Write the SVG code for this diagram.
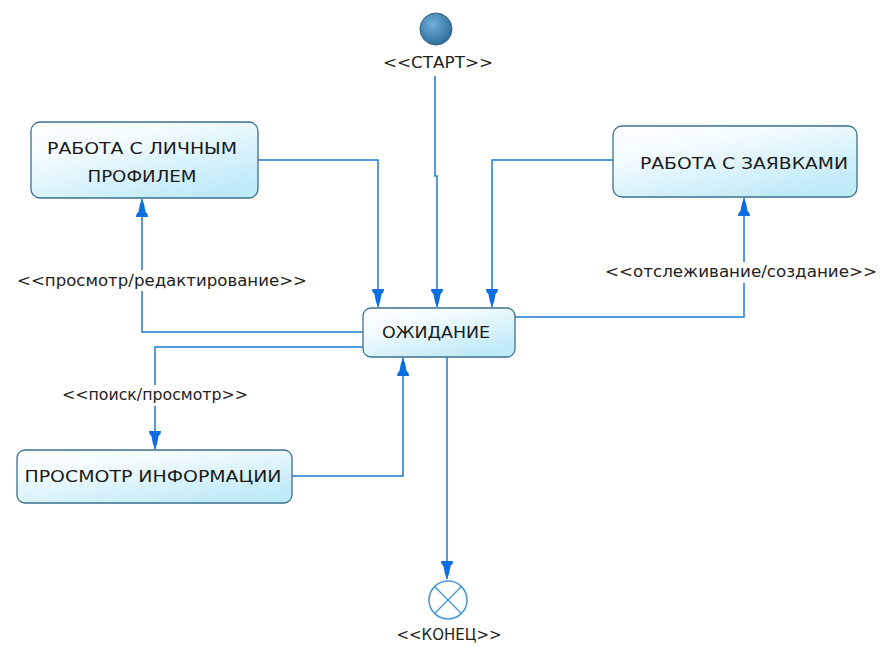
<svg xmlns="http://www.w3.org/2000/svg" width="880" height="647" viewBox="0 0 880 647">
<defs>
<linearGradient id="nodeFill" x1="0" y1="0" x2="0.7" y2="1">
<stop offset="0" stop-color="#ffffff"/>
<stop offset="0.35" stop-color="#f2fbfe"/>
<stop offset="1" stop-color="#bfeaf8"/>
</linearGradient>
<radialGradient id="startFill" cx="0.4" cy="0.35" r="0.7">
<stop offset="0" stop-color="#6fb0d8"/>
<stop offset="1" stop-color="#2a6a98"/>
</radialGradient>
<marker id="arr" markerUnits="userSpaceOnUse" viewBox="-19 -7 20 14" markerWidth="20" markerHeight="14" refX="0" refY="0" orient="auto" overflow="visible">
<path d="M0,0 L-5,-2 L-13,-3.6 L-15,-5.5 L-18,-6 L-18,6 L-15,5.5 L-13,3.6 L-5,2 Z" fill="#0c6ee0"/>
</marker>
<style>
.node rect{fill:url(#nodeFill);stroke:#3d6f8e;stroke-width:1.3}
.nt{font-family:"DejaVu Sans","Liberation Sans",sans-serif;font-size:16px;fill:#1a1a1a;text-anchor:middle}
.lbl{font-family:"DejaVu Sans","Liberation Sans",sans-serif;font-size:15px;fill:#222;text-anchor:middle}
.c{fill:none;stroke:#1f7ad3;stroke-width:1.5}
.arrow{marker-end:url(#arr)}
.bg{fill:#ffffff}
</style>
</defs>
<rect width="880" height="647" fill="#ffffff"/>

<g id="start">
<circle cx="436" cy="29" r="16" fill="url(#startFill)" stroke="#2c5f85" stroke-width="1"/>
<text class="lbl" x="438" y="68" textLength="110" lengthAdjust="spacingAndGlyphs">&lt;&lt;СТАРТ&gt;&gt;</text>
</g>

<g id="connectors">
<path class="c arrow" d="M435,76 V176 H437 V307"/>
<path class="c arrow" d="M258,160 H378 V307"/>
<path class="c arrow" d="M613,160 H492 V307"/>
<path class="c arrow" d="M363,332 H142 V199"/>
<path class="c arrow" d="M515,317 H744 V198"/>
<path class="c arrow" d="M363,347 H155 V449"/>
<path class="c arrow" d="M292,476 H403 V358"/>
<path class="c arrow" d="M447,357 V579"/>
<rect class="bg" x="15" y="270" width="294" height="21"/>
<text class="lbl" x="162" y="286" textLength="290" lengthAdjust="spacingAndGlyphs">&lt;&lt;просмотр/редактирование&gt;&gt;</text>
<rect class="bg" x="603" y="262" width="276" height="21"/>
<text class="lbl" x="741" y="277" textLength="272" lengthAdjust="spacingAndGlyphs">&lt;&lt;отслеживание/создание&gt;&gt;</text>
<rect class="bg" x="60" y="385" width="190" height="21"/>
<text class="lbl" x="155" y="400" textLength="186" lengthAdjust="spacingAndGlyphs">&lt;&lt;поиск/просмотр&gt;&gt;</text>
</g>

<g id="profile" class="node">
<rect x="31" y="122" width="227" height="76" rx="9"/>
<text class="nt" x="142" y="154" textLength="190" lengthAdjust="spacingAndGlyphs">РАБОТА С ЛИЧНЫМ</text>
<text class="nt" x="142" y="182" textLength="109" lengthAdjust="spacingAndGlyphs">ПРОФИЛЕМ</text>
</g>

<g id="requests" class="node">
<rect x="613" y="126" width="244" height="71" rx="9"/>
<text class="nt" x="744" y="169" textLength="208" lengthAdjust="spacingAndGlyphs">РАБОТА С ЗАЯВКАМИ</text>
</g>

<g id="waiting" class="node">
<rect x="363" y="308" width="152" height="49" rx="8"/>
<text class="nt" x="436" y="338" textLength="108" lengthAdjust="spacingAndGlyphs">ОЖИДАНИЕ</text>
</g>

<g id="info" class="node">
<rect x="17" y="450" width="275" height="53" rx="8"/>
<text class="nt" x="153" y="482" textLength="257" lengthAdjust="spacingAndGlyphs">ПРОСМОТР ИНФОРМАЦИИ</text>
</g>

<g id="end">
<circle cx="448" cy="600" r="19" fill="#ffffff" stroke="#4a9ad8" stroke-width="1.6"/>
<path d="M434.6,586.6 L461.4,613.4 M461.4,586.6 L434.6,613.4" stroke="#4a9ad8" stroke-width="1.4"/>
<text class="lbl" x="449" y="640" textLength="105" lengthAdjust="spacingAndGlyphs">&lt;&lt;КОНЕЦ&gt;&gt;</text>
</g>
</svg>
